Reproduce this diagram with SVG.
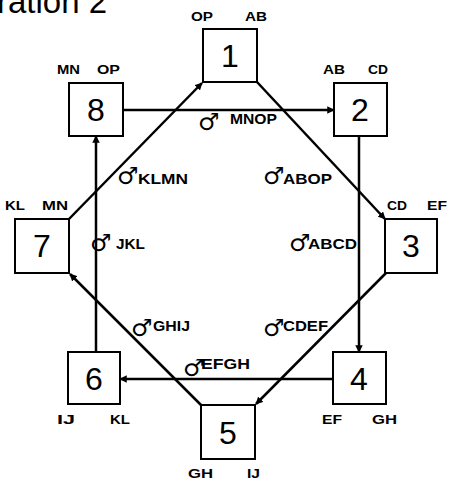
<svg xmlns="http://www.w3.org/2000/svg" width="449" height="480" viewBox="0 0 449 480">
<style>
.box{fill:#fff;stroke:#000;stroke-width:2}
.num{font-family:"Liberation Sans",Arial,sans-serif;font-size:32px;text-anchor:middle}
.cl{font-family:"Liberation Sans",Arial,sans-serif;font-size:13px;font-weight:bold}
.lb{font-family:"Liberation Sans",Arial,sans-serif;font-size:14px;font-weight:bold}
.sym{font-family:"DejaVu Sans",sans-serif;font-size:24px}
.edge{stroke:#000;stroke-width:2.5;fill:none}
</style>
<defs>
<marker id="ah" viewBox="0 0 10 10" refX="9" refY="5" markerWidth="3" markerHeight="3" orient="auto" markerUnits="strokeWidth">
<path d="M0,0 L10,5 L0,10 z" fill="#000"/>
</marker>
</defs>
<rect width="449" height="480" fill="#fff"/>
<text x="-3" y="13" font-family="'Liberation Sans',Arial,sans-serif" font-size="33">ration 2</text>
<g id="connectors">
<line class="edge" x1="123" y1="110" x2="334" y2="110" marker-end="url(#ah)"/>
<line class="edge" x1="69" y1="219" x2="202" y2="83" marker-end="url(#ah)"/>
<line class="edge" x1="257" y1="82" x2="385" y2="219" marker-end="url(#ah)"/>
<line class="edge" x1="359" y1="136" x2="359" y2="352" marker-end="url(#ah)"/>
<line class="edge" x1="386" y1="273" x2="256" y2="404" marker-end="url(#ah)"/>
<line class="edge" x1="333" y1="379" x2="120" y2="379" marker-end="url(#ah)"/>
<line class="edge" x1="201" y1="405" x2="70" y2="274" marker-end="url(#ah)"/>
<line class="edge" x1="96" y1="352" x2="96" y2="136" marker-end="url(#ah)"/>
</g>
<g id="n1"><rect class="box" x="203" y="29" width="54" height="53"/><text class="num" x="230" y="67">1</text>
<text class="cl" x="191" y="21" textLength="22" lengthAdjust="spacingAndGlyphs">OP</text><text class="cl" x="245" y="21" textLength="22" lengthAdjust="spacingAndGlyphs">AB</text></g>
<g id="n2"><rect class="box" x="334" y="83" width="53" height="53"/><text class="num" x="360" y="121">2</text>
<text class="cl" x="323" y="74" textLength="22" lengthAdjust="spacingAndGlyphs">AB</text><text class="cl" x="368" y="74" textLength="20" lengthAdjust="spacingAndGlyphs">CD</text></g>
<g id="n3"><rect class="box" x="385" y="219" width="52" height="54"/><text class="num" x="411" y="257">3</text>
<text class="cl" x="387" y="210" textLength="20" lengthAdjust="spacingAndGlyphs">CD</text><text class="cl" x="427" y="210" textLength="20" lengthAdjust="spacingAndGlyphs">EF</text></g>
<g id="n4"><rect class="box" x="333" y="352" width="53" height="52"/><text class="num" x="359" y="390">4</text>
<text class="cl" x="322" y="424" textLength="20" lengthAdjust="spacingAndGlyphs">EF</text><text class="cl" x="372" y="424" textLength="25" lengthAdjust="spacingAndGlyphs">GH</text></g>
<g id="n5"><rect class="box" x="201" y="405" width="54" height="54"/><text class="num" x="228" y="444">5</text>
<text class="cl" x="188" y="478" textLength="25" lengthAdjust="spacingAndGlyphs">GH</text><text class="cl" x="247" y="478" textLength="13" lengthAdjust="spacingAndGlyphs">IJ</text></g>
<g id="n6"><rect class="box" x="68" y="352" width="52" height="52"/><text class="num" x="94" y="390">6</text>
<text class="cl" x="57" y="424" textLength="18" lengthAdjust="spacingAndGlyphs">IJ</text><text class="cl" x="110" y="424" textLength="20" lengthAdjust="spacingAndGlyphs">KL</text></g>
<g id="n7"><rect class="box" x="15" y="219" width="54" height="54"/><text class="num" x="42" y="257">7</text>
<text class="cl" x="5" y="210" textLength="20" lengthAdjust="spacingAndGlyphs">KL</text><text class="cl" x="42" y="210" textLength="26" lengthAdjust="spacingAndGlyphs">MN</text></g>
<g id="n8"><rect class="box" x="69" y="83" width="54" height="53"/><text class="num" x="96" y="121">8</text>
<text class="cl" x="57" y="74" textLength="23" lengthAdjust="spacingAndGlyphs">MN</text><text class="cl" x="97" y="74" textLength="23" lengthAdjust="spacingAndGlyphs">OP</text></g>
<g id="labels">
<text class="sym" x="198" y="130">♂</text><text class="lb" x="230" y="124" textLength="47" lengthAdjust="spacingAndGlyphs">MNOP</text>
<text class="sym" x="117" y="184">♂</text><text class="lb" x="138" y="184" textLength="50" lengthAdjust="spacingAndGlyphs">KLMN</text>
<text class="sym" x="263" y="184">♂</text><text class="lb" x="283" y="184" textLength="49" lengthAdjust="spacingAndGlyphs">ABOP</text>
<text class="sym" x="90" y="251">♂</text><text class="lb" x="116" y="249" textLength="29" lengthAdjust="spacingAndGlyphs">JKL</text>
<text class="sym" x="289" y="251">♂</text><text class="lb" x="308" y="249" textLength="49" lengthAdjust="spacingAndGlyphs">ABCD</text>
<text class="sym" x="131" y="336">♂</text><text class="lb" x="153" y="331" textLength="37" lengthAdjust="spacingAndGlyphs">GHIJ</text>
<text class="sym" x="263" y="336">♂</text><text class="lb" x="283" y="331" textLength="45" lengthAdjust="spacingAndGlyphs">CDEF</text>
<text class="sym" x="183" y="376">♂</text><text class="lb" x="201" y="369" textLength="49" lengthAdjust="spacingAndGlyphs">EFGH</text>
</g>
</svg>
